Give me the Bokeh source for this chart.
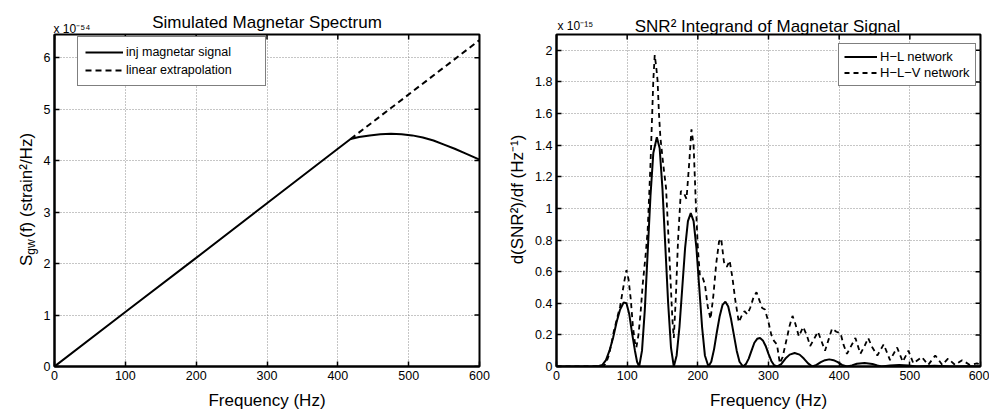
from math import pi
from bokeh.plotting import figure
from bokeh.layouts import row
from bokeh.models import (Range1d, FixedTicker, Label, Legend, LegendItem,
                          NumeralTickFormatter)
from bokeh.embed import file_html
from bokeh.resources import INLINE

FONT = "Liberation Sans"

# ---------------- data: left panel (units of 1e-54 strain^2/Hz) -------------
inj_freq = [0, 100, 200, 300, 400, 418, 430, 445, 460, 475, 490, 505, 520,
            535, 550, 565, 580, 600]
inj_val = [0, 1.06, 2.11, 3.17, 4.23, 4.42, 4.46, 4.49, 4.51, 4.52, 4.51,
           4.49, 4.45, 4.39, 4.31, 4.23, 4.14, 4.02]
ext_freq = [418, 600]
ext_val = [4.42, 6.34]

# ---------------- data: right panel (units of 1e-15 Hz^-1) ------------------
hl_freq = [0, 50, 60, 65, 70, 75, 80, 85, 90, 95, 99, 103, 107, 111, 114, 117,
           121, 125, 129, 133, 137, 142, 146, 150, 154, 158, 162, 166,
           170, 174, 178, 182, 186, 190, 194, 198, 202, 206, 210, 215,
           219, 223, 227, 231, 235, 239, 243, 247, 251, 255, 259, 264,
           268, 272, 276, 280, 284, 288, 292, 296, 300, 304, 308, 312,
           318, 324, 330, 337, 344, 350, 356, 362,
           368, 374, 380, 386, 392, 398, 404, 411,
           418, 425, 436, 447, 454, 460,
           472, 485, 498, 510, 535, 560, 585, 600]
hl_val = [0, 0, 0.003, 0.01, 0.04, 0.10, 0.18, 0.28, 0.36, 0.405, 0.40, 0.33,
          0.21, 0.10, 0.03, 0.0,
          0.10, 0.36, 0.72, 1.08, 1.35, 1.45, 1.38, 1.12, 0.76, 0.40, 0.12, 0.0,
          0.07, 0.25, 0.50, 0.75, 0.92, 0.97, 0.92, 0.75, 0.50, 0.25, 0.07, 0.0,
          0.03, 0.11, 0.22, 0.32, 0.39, 0.41, 0.38, 0.30, 0.20, 0.10, 0.03, 0.0,
          0.015, 0.05, 0.10, 0.15, 0.175, 0.18, 0.165, 0.13, 0.08, 0.035,
          0.008, 0.0,
          0.015, 0.05, 0.075, 0.085, 0.075, 0.05, 0.02, 0.0,
          0.01, 0.028, 0.04, 0.045, 0.04, 0.028, 0.01, 0.0,
          0.007, 0.017, 0.022, 0.016, 0.006, 0.0,
          0.007, 0.01, 0.007, 0.0, 0.004, 0.0, 0.002, 0.0]

hlv_freq = [0, 50, 60, 66, 70, 74, 78, 81, 86, 90, 93, 96, 99, 102, 105, 108,
            111, 113, 116, 119, 122, 126, 129, 133, 137, 139, 141, 143, 145,
            147, 151, 155, 158, 161, 164, 166, 169, 172, 176, 180, 184, 188,
            191, 194, 197, 200, 203, 207, 210, 214, 218, 222, 226, 230, 233,
            237, 241, 245, 249, 253, 258, 262, 266, 270, 274, 279, 283, 287,
            291, 295, 300, 304, 308, 312, 316, 320, 325, 330, 334, 338, 343,
            349, 354, 359, 364, 370, 375, 380, 385, 390, 396, 402, 406, 411,
            417, 423, 430, 436, 441, 447, 454, 463, 472, 482, 490, 498, 505,
            517, 526, 536, 546, 554, 564, 574, 585, 595, 600]
hlv_val = [0, 0, 0, 0, 0.02, 0.07, 0.15, 0.22, 0.31, 0.38, 0.46, 0.54, 0.61,
           0.55, 0.43, 0.26, 0.15, 0.12, 0.20, 0.34, 0.52, 0.70, 0.86, 1.28,
           1.81, 1.97, 1.90, 1.81, 1.60, 1.45, 1.28, 1.13, 0.86, 0.58, 0.30,
           0.18, 0.45, 0.80, 1.11, 1.10, 1.06, 1.30, 1.50, 1.40, 1.05, 0.75,
           0.57, 0.56, 0.52, 0.38, 0.30, 0.45, 0.65, 0.79, 0.81, 0.66, 0.63,
           0.67, 0.56, 0.42, 0.28, 0.32, 0.35, 0.33, 0.37, 0.44, 0.47, 0.42,
           0.37, 0.36, 0.28, 0.20, 0.16, 0.14, 0.02, 0.06, 0.16, 0.26, 0.32,
           0.27, 0.19, 0.25, 0.20, 0.13, 0.17, 0.22, 0.16, 0.10, 0.17, 0.24,
           0.22, 0.21, 0.14, 0.08, 0.13, 0.18, 0.08, 0.13, 0.18, 0.12, 0.07,
           0.14, 0.04, 0.12, 0.03, 0.10, 0.02, 0.06, 0.01, 0.07, 0.01, 0.05,
           0.01, 0.04, 0.01, 0.02, 0.01]

x_ticks = [0, 100, 200, 300, 400, 500, 600]
left_yticks = [0, 1, 2, 3, 4, 5, 6]
right_yticks = [0, 0.2, 0.4, 0.6, 0.8, 1, 1.2, 1.4, 1.6, 1.8, 2]

# ---------------- layout constants (canvas pixels) --------------------------
H = 417
LF = dict(l=54, r=479, t=32, b=366)   # left frame
RF = dict(l=556, r=980, t=34, b=366)  # right frame
L_YMAX = 6.45
R_YMAX = 2.1
P1_W = 498
P2_X = P1_W
P2_W = 989 - P1_W


def lx(px):
    return (px - LF["l"]) / (LF["r"] - LF["l"]) * 600


def ly(py):
    return (LF["b"] - py) / (LF["b"] - LF["t"]) * L_YMAX


def rx(px):
    return (px - RF["l"]) / (RF["r"] - RF["l"]) * 600


def ry(py):
    return (RF["b"] - py) / (RF["b"] - RF["t"]) * R_YMAX


def style(p, yticks, ymax):
    p.xaxis.ticker = FixedTicker(ticks=x_ticks)
    p.yaxis.ticker = FixedTicker(ticks=yticks)
    for ax in p.axis:
        ax.major_tick_in = 5
        ax.major_tick_out = 0
        ax.minor_tick_in = 0
        ax.minor_tick_out = 0
        ax.axis_line_color = "black"
        ax.axis_line_width = 2
        ax.major_tick_line_color = "black"
        ax.major_tick_line_width = 1.5
        ax.major_label_text_font = FONT
        ax.major_label_text_color = "black"
        ax.major_label_text_font_size = "12.5px"
    p.xaxis.major_label_standoff = 4
    p.yaxis.major_label_standoff = 4
    p.xaxis.axis_label = "Frequency (Hz)"
    p.xaxis.axis_label_text_font = FONT
    p.xaxis.axis_label_text_font_size = "17px"
    p.xaxis.axis_label_text_font_style = "normal"
    p.xaxis.axis_label_text_color = "black"
    p.xaxis.axis_label_standoff = 8
    p.grid.grid_line_color = "#8c8c8c"
    p.grid.grid_line_dash = "1 2"
    p.grid.grid_line_width = 1
    p.outline_line_color = "black"
    p.outline_line_width = 2
    p.outline_line_alpha = 1
    # inward ticks on the top and right edges of the box (half of each dash
    # is clipped away by the frame)
    p.scatter(x=[x_ticks[-1]] * len(yticks), y=yticks, marker="dash", size=10,
              line_color="black", line_width=1.5)
    p.scatter(x=x_ticks, y=[ymax] * len(x_ticks), marker="dash", size=10,
              angle=pi / 2, line_color="black", line_width=1.5)


def add_label(p, side, x, y, text, size, angle=0, align="left",
              baseline="alphabetic"):
    p.add_layout(Label(x=x, y=y, text=text, text_font=FONT,
                       text_font_size=size, angle=angle, text_align=align,
                       text_baseline=baseline, text_color="black"), side)


# ---------------- left figure ----------------------------------------------
p1 = figure(width=P1_W, height=H, output_backend="svg", toolbar_location=None,
            x_range=Range1d(0, 600), y_range=Range1d(0, L_YMAX),
            min_border_left=LF["l"], min_border_right=P1_W - LF["r"],
            min_border_top=LF["t"], min_border_bottom=H - LF["b"],
            background_fill_color="white", border_fill_color="white")
style(p1, left_yticks, L_YMAX)
r_inj = p1.line(inj_freq, inj_val, line_color="black", line_width=2)
r_ext = p1.line(ext_freq, ext_val, line_color="black", line_width=2,
                line_dash="6 4")
leg1 = Legend(items=[LegendItem(label="inj magnetar signal", renderers=[r_inj]),
                     LegendItem(label="linear extrapolation", renderers=[r_ext])],
              location=(77 - LF["l"], LF["b"] - 86), margin=0, padding=7,
              spacing=2, glyph_width=38, glyph_height=16, label_height=16,
              label_width=132, label_standoff=3,
              label_text_font=FONT, label_text_font_size="12.5px",
              label_text_color="black", border_line_color="black",
              border_line_width=1.2, background_fill_alpha=1)
p1.add_layout(leg1)
add_label(p1, "above", lx((LF["l"] + LF["r"]) / 2), ly(19.5),
          "Simulated Magnetar Spectrum", "17px", align="center")
add_label(p1, "above", lx(53), ly(26.5), "x 10\u207b\u2075\u2074", "12px")
# y-axis label S_gw(f) (strain^2/Hz): main text with a gap, subscript apart
add_label(p1, "left", lx(26), ly(265), "S\u2002\u2002(f) (strain\u00b2/Hz)",
          "17px", angle=pi / 2)
add_label(p1, "left", lx(30.5), ly(253.5), "gw", "12px", angle=pi / 2)

# ---------------- right figure ---------------------------------------------
p2 = figure(width=P2_W, height=H, output_backend="svg", toolbar_location=None,
            x_range=Range1d(0, 600), y_range=Range1d(0, R_YMAX),
            min_border_left=RF["l"] - P2_X,
            min_border_right=P2_W - (RF["r"] - P2_X),
            min_border_top=RF["t"], min_border_bottom=H - RF["b"],
            background_fill_color="white", border_fill_color="white")
style(p2, right_yticks, R_YMAX)
p2.yaxis.formatter = NumeralTickFormatter(format="0.[0]")
r_hl = p2.line(hl_freq, hl_val, line_color="black", line_width=2)
r_hlv = p2.line(hlv_freq, hlv_val, line_color="black", line_width=1.8,
                line_dash="5 4")
leg2 = Legend(items=[LegendItem(label="H\u2212L network", renderers=[r_hl]),
                     LegendItem(label="H\u2212L\u2212V network", renderers=[r_hlv])],
              location=(838 - RF["l"], RF["b"] - 86), margin=0, padding=5,
              spacing=1, glyph_width=33, glyph_height=15, label_height=15,
              label_standoff=3,
              label_text_font=FONT, label_text_font_size="13px",
              label_text_color="black", border_line_color="black",
              border_line_width=1.2, background_fill_alpha=1)
p2.add_layout(leg2)
add_label(p2, "above", rx(767), ry(25.5), "SNR\u00b2 Integrand of Magnetar Signal",
          "17px", align="center")
add_label(p2, "above", rx(557), ry(25), "x 10\u207b\u00b9\u2075", "12px")
add_label(p2, "left", rx(517), ry(199), "d(SNR\u00b2)/df (Hz\u207b\u00b9)", "17px",
          angle=pi / 2, align="center")

layout = row(p1, p2)
open("out.html", "w").write(file_html(layout, INLINE))
